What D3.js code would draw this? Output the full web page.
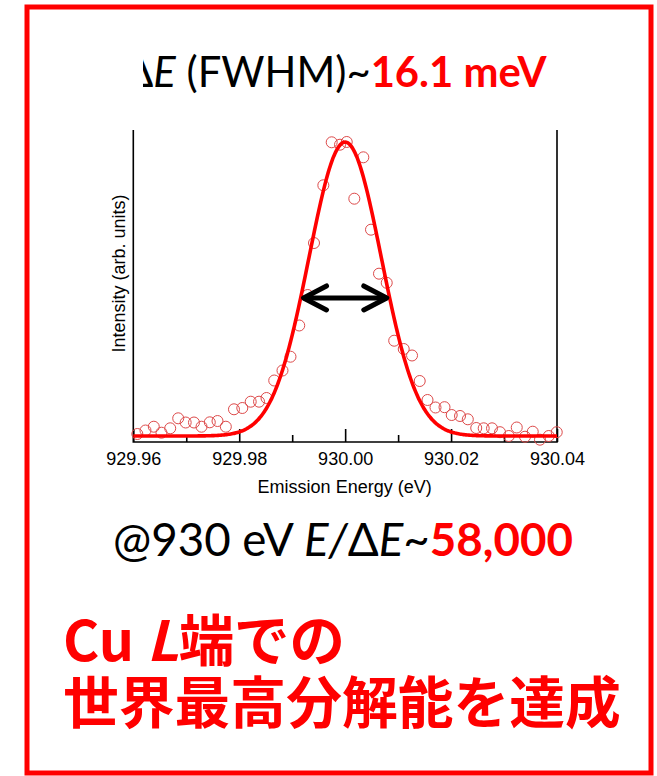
<!DOCTYPE html>
<html><head><meta charset="utf-8">
<script src="https://cdn.jsdelivr.net/npm/d3@7"></script>
<style>body{margin:0;background:#fff} svg{display:block}</style>
</head><body><svg id="c" width="657" height="776"></svg>
<script>
// ---- data ----
const energy = [929.96076, 929.96230, 929.96387, 929.96532, 929.96697, 929.96848, 929.96989, 929.97146,
  929.97288, 929.97444, 929.97590, 929.97747, 929.97901, 929.98058, 929.98217, 929.98374, 929.98515,
  929.98661, 929.98817, 929.98968, 929.99133, 929.99293, 929.99412, 929.99588, 929.99746, 929.99903,
  930.00030, 930.00173, 930.00343, 930.00488, 930.00639, 930.00785, 930.00926, 930.01106, 930.01263,
  930.01408, 930.01555, 930.01706, 930.01876, 930.02012, 930.02169, 930.02316, 930.02475, 930.02616,
  930.02773, 930.02924, 930.03090, 930.03240, 930.03396, 930.03542, 930.03679, 930.03844, 930.03995];
const intensity = [2.36, 3.39, 4.51, 2.74, 4.04, 6.99, 5.75, 5.75,
  4.51, 5.81, 6.19, 4.51, 9.65, 10.03, 11.89, 11.89, 12.98,
  18.14, 21.09, 25.16, 34.37, 43.36, 58.70, 75.72, 88.41, 87.70,
  88.50, 71.77, 83.98, 62.63, 49.65, 46.96, 29.88, 27.43, 25.52,
  17.99, 12.39, 10.18, 10.27, 7.96, 7.67, 6.70, 4.13, 4.04,
  4.04, 2.89, 1.77, 4.28, 1.56, 3.04, 0.68, 1.77, 2.89];
// Gaussian fit parameters
const fitCenter = 930.000, fitFWHM = 0.0161, fitAmp = 86.7, fitBg = 1.77;
const arrowLevel = 42.5;
const majorTicks = [929.96, 929.98, 930.00, 930.02, 930.04];
const minorTicks = [929.97, 929.99, 930.01, 930.03];
const xDomain = [929.96, 930.04];
const yDomain = [0, 100];
const yAxisTop = 92;   // visible top of the side axes (arb. units)
const xLabel = "Emission Energy (eV)";
const yLabel = "Intensity (arb. units)";

// ---- drawing ----
const svg = d3.select("#c");
const L = 133.3, R = 557, T = 103, B = 442;
const x = d3.scaleLinear().domain(xDomain).range([L, R]);
const y = d3.scaleLinear().domain(yDomain).range([B, T]);
const RED = "#ff0000";

// outer red frame
svg.append("rect").attr("x", 27).attr("y", 7).attr("width", 624).attr("height", 766)
  .attr("fill", "none").attr("stroke", RED).attr("stroke-width", 5);

function fitWidth(sel, target) {
  const w = sel.node().getBBox().width;
  const fs = parseFloat(sel.attr("font-size"));
  sel.attr("font-size", fs * target / w);
}

// title
const title = svg.append("text").attr("x", 125).attr("y", 87)
  .attr("font-family", "Lato, 'Open Sans', sans-serif").attr("font-size", 44).attr("fill", "#000");
title.append("tspan").text("Δ");
title.append("tspan").attr("font-style", "italic").text("E");
title.append("tspan").text(" (FWHM)~");
title.append("tspan").attr("font-weight", 700).attr("fill", RED).text("16.1 meV");
fitWidth(title, 422);

// white cover over top-left (clips the title's Δ)
svg.append("rect").attr("x", 90).attr("y", 30).attr("width", 143 - 90).attr("height", 80)
  .attr("fill", "#fff");

// plot frame: left, right, bottom
const yt = y(yAxisTop);
const frame = svg.append("g").attr("stroke", "#000").attr("stroke-width", 1.6).attr("fill", "none");
frame.append("path").attr("d", `M${L},${yt} V${B} H${R} V${yt}`);

// x axis ticks (inward)
const axMajor = d3.axisBottom(x).tickValues(majorTicks).tickSize(-13).tickPadding(10)
  .tickFormat(d3.format(".2f"));
const axMinor = d3.axisBottom(x).tickValues(minorTicks).tickSize(-7).tickFormat("");
const gx = svg.append("g").attr("transform", `translate(0,${B})`).call(axMajor);
const gx2 = svg.append("g").attr("transform", `translate(0,${B})`).call(axMinor);
[gx, gx2].forEach(a => {
  a.select(".domain").remove();
  a.selectAll("line").attr("stroke", "#000").attr("stroke-width", 1.6);
});
gx.selectAll("text").attr("font-family", "'Liberation Sans', Arial, sans-serif")
  .attr("font-size", 18).attr("fill", "#000");

// axis labels
svg.append("text").attr("x", (L + R) / 2 - 0.5).attr("y", 493).attr("text-anchor", "middle")
  .attr("font-family", "'Liberation Sans', Arial, sans-serif").attr("font-size", 18).attr("fill", "#000")
  .text(xLabel);
svg.append("text").attr("transform", `translate(124.5,${273.5}) rotate(-90)`).attr("text-anchor", "middle")
  .attr("font-family", "'Liberation Sans', Arial, sans-serif").attr("font-size", 18).attr("fill", "#000")
  .text(yLabel);

// data circles
const pts = energy.map((e, i) => [e, intensity[i]]);
svg.append("g").selectAll("circle").data(pts).join("circle")
  .attr("cx", d => x(d[0])).attr("cy", d => y(d[1])).attr("r", 5.5)
  .attr("fill", "none").attr("stroke", "#dd4a4a").attr("stroke-width", 1);

// Gaussian fit curve
const sigma = fitFWHM / (2 * Math.sqrt(2 * Math.LN2));
const fitX = d3.range(xDomain[0], xDomain[1] + 1e-9, 0.0002);
const fit = fitX.map(e => [e, fitBg + fitAmp * Math.exp(-0.5 * ((e - fitCenter) / sigma) ** 2)]);
svg.append("path").datum(fit)
  .attr("d", d3.line().x(d => x(d[0])).y(d => y(d[1])).curve(d3.curveBasis))
  .attr("fill", "none").attr("stroke", RED).attr("stroke-width", 3.6);

// FWHM double arrow
const ax1 = x(fitCenter - fitFWHM / 2), ax2 = x(fitCenter + fitFWHM / 2), ay = y(arrowLevel);
const arr = svg.append("g").attr("stroke", "#000").attr("stroke-width", 5)
  .attr("stroke-linecap", "round").attr("stroke-linejoin", "round").attr("fill", "none");
arr.append("line").attr("x1", ax1 + 2).attr("x2", ax2 - 2).attr("y1", ay).attr("y2", ay);
arr.append("path").attr("d", `M${ax1 + 24},${ay - 12} L${ax1 + 1},${ay} L${ax1 + 24},${ay + 12}`);
arr.append("path").attr("d", `M${ax2 - 24},${ay - 12} L${ax2 - 1},${ay} L${ax2 - 24},${ay + 12}`);

// resolving power line
const l2 = svg.append("text").attr("x", 113).attr("y", 556)
  .attr("font-family", "Lato, 'Open Sans', sans-serif").attr("font-size", 42).attr("fill", "#000");
l2.append("tspan").text("@930 eV ");
l2.append("tspan").attr("font-style", "italic").text("E/");
l2.append("tspan").text("Δ");
l2.append("tspan").attr("font-style", "italic").text("E");
l2.append("tspan").text("~");
l2.append("tspan").attr("font-weight", 700).attr("fill", RED).text("58,000");
fitWidth(l2, 460);

// Japanese lines
const jf = "'Noto Sans CJK JP', 'Noto Sans CJK SC', sans-serif";
const j1 = svg.append("text").attr("x", 63).attr("y", 661).attr("font-family", jf)
  .attr("font-weight", 700).attr("font-size", 52).attr("fill", RED);
j1.append("tspan").text("Cu ");
j1.append("tspan").attr("font-style", "italic").text("L");
j1.append("tspan").text("端での");
fitWidth(j1, 282);
const j2 = svg.append("text").attr("x", 63).attr("y", 723).attr("font-family", jf)
  .attr("font-weight", 700).attr("font-size", 55).attr("fill", RED).text("世界最高分解能を達成");
fitWidth(j2, 558);
</script></body></html>
